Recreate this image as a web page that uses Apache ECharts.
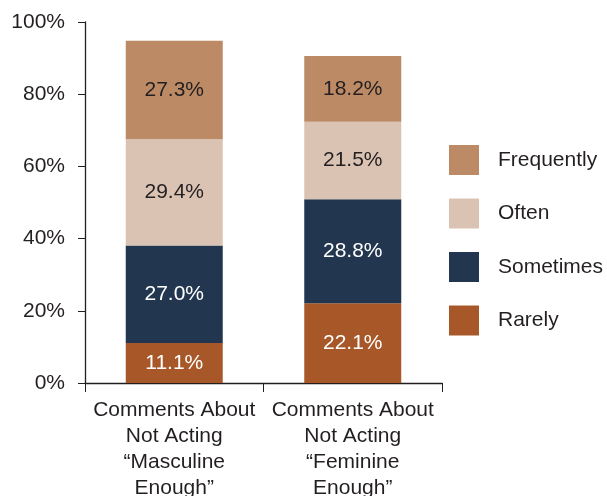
<!DOCTYPE html>
<html><head><meta charset="utf-8">
<script src="https://cdn.jsdelivr.net/npm/echarts@6/dist/echarts.min.js"></script>
<style>html,body{margin:0;padding:0;background:#fff}#c{width:607px;height:496px}</style>
</head><body><div id="c"></div>
<script>
const categories = ['Comments About\nNot Acting\n\u201cMasculine\nEnough\u201d', 'Comments About\nNot Acting\n\u201cFeminine\nEnough\u201d'];
const rarely = [11.1, 22.1];
const sometimes = [27.0, 28.8];
const often = [29.4, 21.5];
const frequently = [27.3, 18.2];
const yTicks = [0, 20, 40, 60, 80, 100];

const font = 'Liberation Sans, Arial, Helvetica, sans-serif';
function s(name, data, color, labelColor) {
  return {
    name, type: 'bar', stack: 'a', data, barWidth: 97,
    itemStyle: { color },
    label: { show: true, position: 'inside', color: labelColor, fontSize: 21, fontFamily: font,
      formatter: p => p.value.toFixed(1) + '%' }
  };
}
const chart = echarts.init(document.getElementById('c'));
chart.setOption({
  animation: false,
  grid: { left: 85, right: 165, top: 22, bottom: 113, outerBoundsMode: 'none', containLabel: false },
  legend: {
    orient: 'vertical', left: 449, top: 145, itemWidth: 30, itemHeight: 30, itemGap: 23.5,
    padding: 0,
    icon: 'rect', data: ['Frequently', 'Often', 'Sometimes', 'Rarely'],
    textStyle: { fontSize: 21, fontFamily: font, color: '#231f20', padding: [0, 0, 0, 14] }
  },
  xAxis: {
    type: 'category', data: categories,
    axisLine: { lineStyle: { color: '#231f20', width: 1.3 } },
    axisTick: { show: true, length: 9, lineStyle: { color: '#231f20' } },
    axisLabel: { fontSize: 21, fontFamily: font, color: '#231f20', lineHeight: 26, margin: 14, interval: 0 }
  },
  yAxis: {
    type: 'value', min: 0, max: 100, interval: 20,
    axisLine: { show: true, lineStyle: { color: '#231f20', width: 1.3 } },
    axisTick: { show: true, length: 7, lineStyle: { color: '#231f20' } },
    splitLine: { show: false },
    axisLabel: { fontSize: 21, fontFamily: font, color: '#231f20', margin: 20,
      formatter: v => yTicks.includes(v) ? v + '%' : '' }
  },
  series: [
    s('Rarely', rarely, '#A85828', '#ffffff'),
    s('Sometimes', sometimes, '#22374F', '#ffffff'),
    s('Often', often, '#DBC3B4', '#231f20'),
    s('Frequently', frequently, '#BC8A65', '#231f20')
  ]
});
</script></body></html>
